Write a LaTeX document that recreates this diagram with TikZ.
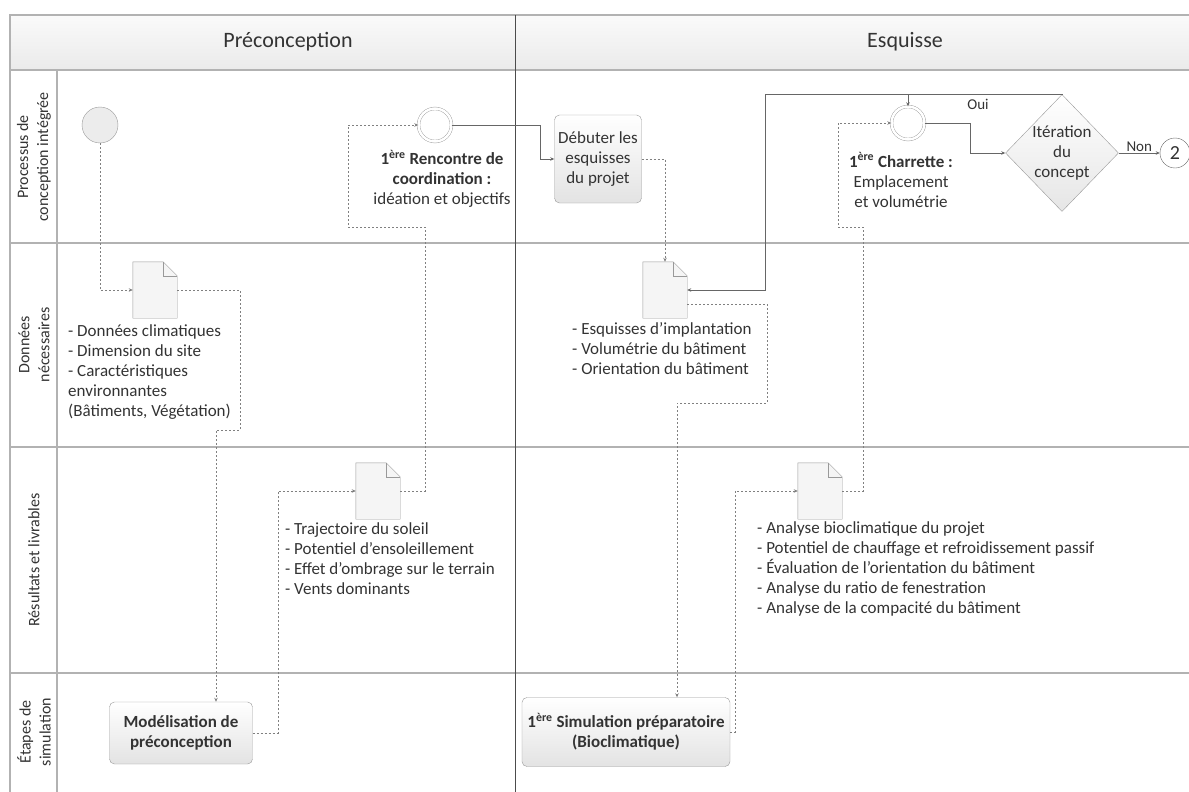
\documentclass[tikz,border=0pt]{standalone}
\usepackage{fontspec}
\setmainfont{Carlito}
\usetikzlibrary{arrows.meta,shapes.geometric}

\newcommand\pagedoc[2]{%
  \node[docbox] (#1) at (#2) {};
  \draw[gray!80,fill=gray!8] (#1.north west) -- ([xshift=-14pt]#1.north east)
    -- ([yshift=-14pt]#1.north east) -- (#1.south east) -- (#1.south west) -- cycle;
  \draw[gray!80] ([xshift=-14pt]#1.north east) |- ([yshift=-14pt]#1.north east);
}

\begin{document}
\begin{tikzpicture}[x=1pt,y=-1pt,
  every node/.style={font=\fontsize{17}{20}\selectfont,text=black!80},
  lane/.style={draw=gray!60,line width=1.2pt},
  flow/.style={draw=black!60,line width=0.7pt,-{Stealth[length=4pt,width=3.5pt]}},
  data/.style={flow,draw=black!50,dash pattern=on 2pt off 2pt},
  task/.style={draw=gray!80,rounded corners=5pt,top color=white,bottom color=gray!22,
    align=center,inner sep=2pt},
  event/.style={circle,draw=gray!80,minimum size=36pt,inner sep=0pt},
  docbox/.style={minimum width=44pt,minimum height=56pt,inner sep=0pt},
  liste/.style={align=left,anchor=north west,inner sep=0pt},
  petit/.style={font=\fontsize{15}{17}\selectfont},
  ]
  \useasboundingbox (0,0) rectangle (1189,792);
  \clip (0,0) rectangle (1189,792);

  \fill[top color=gray!4,bottom color=gray!16] (10,15) rectangle (1189,70);
  \draw[lane] (1189,15) -| (10,792);
  \draw[lane] (10,70) -- (1189,70);
  \draw[lane] (10,243) -- (1189,243);
  \draw[lane] (10,447) -- (1189,447);
  \draw[lane] (10,673) -- (1189,673);
  \draw[lane] (57,70) -- (57,792);
  \draw[black!70,line width=1pt] (515,15) -- (515,792);

  \node[font=\fontsize{22}{24}\selectfont] (preconc) at (288,42) {Préconception};
  \node[font=\fontsize{22}{24}\selectfont] (esquisse) at (905,42) {Esquisse};

  \node[rotate=90,align=center,font=\fontsize{16}{20}\selectfont] (lane1) at (34,157) {Processus de\\conception intégrée};
  \node[rotate=90,align=center,font=\fontsize{16}{20}\selectfont] (lane2) at (34,345) {Données\\nécessaires};
  \node[rotate=90,align=center,font=\fontsize{16}{20}\selectfont] (lane3) at (34,560) {Résultats et livrables};
  \node[rotate=90,align=center,font=\fontsize{16}{20}\selectfont] (lane4) at (34,732) {Étapes de\\simulation};

  % evenements et taches
  \node[event,fill=gray!15] (start) at (100,125) {};
  \node[event,double=white,double distance=2.5pt,minimum size=33pt] (ev2) at (435,125) {};
  \node[event,double=white,double distance=2.5pt,minimum size=33pt] (ev3) at (908,123) {};
  \node[align=center] (txt2) at (442,179)
    {\textbf{1\textsuperscript{ère} Rencontre de}\\\textbf{coordination :}\\idéation et objectifs};
  \node[align=center] (txt3) at (901,180)
    {\textbf{1\textsuperscript{ère} Charrette :}\\Emplacement\\et volumétrie};
  \node[task,minimum width=87pt,minimum height=88pt] (deb) at (598,159)
    {Débuter les\\esquisses\\du projet};
  \node[diamond,aspect=1,draw=gray!80,top color=white,bottom color=gray!20,
    minimum width=113pt,minimum height=117pt,inner sep=-4pt,align=center] (dec) at (1062,153)
    {Itération\\du\\concept};
  \node[circle,draw=black!60,minimum size=30pt,inner sep=0pt,
    font=\fontsize{20}{22}\selectfont] (fin) at (1175,153) {2};
  \node[task,minimum width=143pt,minimum height=62pt] (mod) at (181,733)
    {\textbf{Modélisation de}\\\textbf{préconception}};
  \node[task,minimum width=208pt,minimum height=69pt] (sim) at (626,732)
    {\textbf{1\textsuperscript{ère} Simulation préparatoire}\\\textbf{(Bioclimatique)}};

  % documents
  \pagedoc{d1}{155,290}
  \pagedoc{d2}{378,491}
  \pagedoc{d3}{665,290}
  \pagedoc{d4}{820,491}
  \node[liste] (l1) at (68,324) {- Données climatiques\\- Dimension du site\\- Caractéristiques\\environnantes\\(Bâtiments, Végétation)};
  \node[liste] (l2) at (285,522) {- Trajectoire du soleil\\- Potentiel d'ensoleillement\\- Effet d'ombrage sur le terrain\\- Vents dominants};
  \node[liste] (l3) at (572,322) {- Esquisses d'implantation\\- Volumétrie du bâtiment\\- Orientation du bâtiment};
  \node[liste] (l4) at (757,521) {- Analyse bioclimatique du projet\\- Potentiel de chauffage et refroidissement passif\\- Évaluation de l'orientation du bâtiment\\- Analyse du ratio de fenestration\\- Analyse de la compacité du bâtiment};

  % liens
  \draw[data] (start) |- (d1.west);
  \draw[data] (d1.east) -| (240,430) -| ([xshift=35pt]mod.north);
  \draw[data] (mod.east) -| (278,491) -- (d2.west);
  \draw[data] (d2.east) -| (425,227) -| (348,125) -- (ev2.west);
  \draw[flow] (ev2.east) -| (540,159) -- (deb.west);
  \draw[data] (deb.east) -| (d3.north);
  \draw[data] ([yshift=-14pt]d3.east) -| (767,403) -| ([xshift=51pt]sim.north);
  \draw[data] (sim.east) -| (735,491) -- (d4.west);
  \draw[data] (d4.east) -| (863,227) -| (838,123) -- (ev3.west);
  \draw[flow] (ev3.east) -| (970,153) -- (dec.west);
  \draw[flow] (dec.north) |- (765,94) |- (d3.east);
  \coordinate (oui) at (908,94);
  \draw[flow] (oui) -- (ev3.north);
  \node[petit] (ouitxt) at (978,104) {Oui};
  \draw[flow] (dec.east) -- (fin.west) node[midway,above,petit,inner sep=1pt] {Non};
\end{tikzpicture}
\end{document}
